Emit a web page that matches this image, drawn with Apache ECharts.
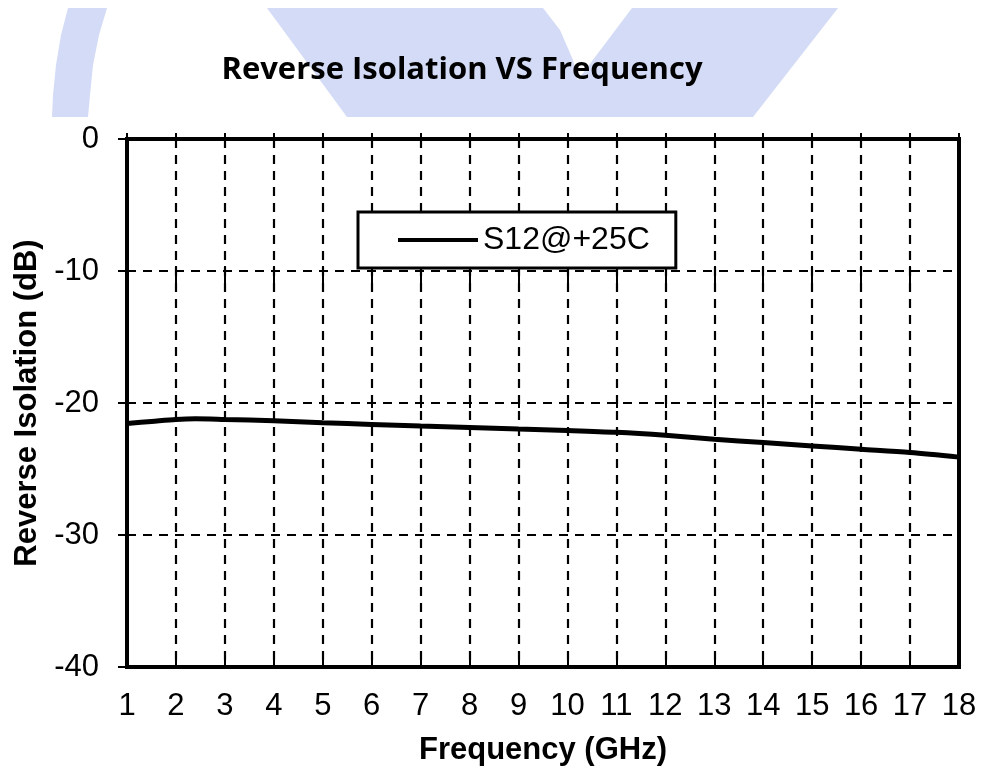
<!DOCTYPE html>
<html>
<head>
<meta charset="utf-8">
<script src="https://cdn.jsdelivr.net/npm/echarts@6/dist/echarts.min.js"></script>
<style>html,body{margin:0;padding:0;background:#fff;}#c{width:981px;height:775px;}</style>
</head>
<body>
<div id="c"></div>
<script>
var titleText = 'Reverse Isolation VS Frequency';
var xName = 'Frequency (GHz)';
var yName = 'Reverse Isolation (dB)';
var seriesName = 'S12@+25C';
var freq = [1, 1.5, 2, 2.4, 3, 4, 5, 6, 7, 8, 9, 10, 11, 12, 13, 14, 15, 16, 17, 18];
var s12 = [-21.55, -21.4, -21.25, -21.2, -21.25, -21.35, -21.5, -21.62, -21.75, -21.85, -21.97, -22.08, -22.22, -22.45, -22.75, -23.0, -23.25, -23.5, -23.75, -24.1];
var xMin = 1, xMax = 18, xStep = 1;
var yMin = -40, yMax = 0, yStep = 10;

var wm = '#d3dbf6';
var chart = echarts.init(document.getElementById('c'));
var font = '"Liberation Sans", Arial, sans-serif';
var plotH = 775 - 139 - 108;

function crossAxis(k) {
  // small tick crosses where vertical grid lines meet the horizontal gridline k steps above the bottom
  return {
    type: 'value', min: xMin, max: xMax, interval: xStep, position: 'bottom',
    offset: -(plotH * k / ((yMax - yMin) / yStep) + 5),
    axisLine: {show: false}, axisLabel: {show: false}, splitLine: {show: false},
    axisTick: {show: true, length: 10, lineStyle: {color: '#000', width: 2}}
  };
}

chart.setOption({
  animation: false,
  backgroundColor: '#fff',
  graphic: [
    {type: 'polygon', z: -10, silent: true, shape: {points: [[68,8],[107,8],[99,35],[93,65],[90,95],[88,117],[52,117],[53,95],[56,65],[61,35]]}, style: {fill: wm}},
    {type: 'polygon', z: -10, silent: true, shape: {points: [[267,8],[543,8],[560,30],[573,60],[580,90],[583,117],[347,117]]}, style: {fill: wm}},
    {type: 'polygon', z: -10, silent: true, shape: {points: [[632,8],[838,8],[753,117],[550,117]]}, style: {fill: wm}}
  ],
  title: {
    text: titleText,
    left: 457, top: 50, textAlign: 'center',
    textStyle: {fontFamily: '"Open Sans", sans-serif', fontWeight: 'bold', fontSize: 31, color: '#000'}
  },
  legend: {
    left: 358, top: 212,
    data: [{name: seriesName, icon: 'rect'}],
    itemWidth: 80, itemHeight: 4, itemGap: 5,
    padding: [12, 26, 12, 40],
    borderColor: '#000', borderWidth: 3, backgroundColor: '#fff',
    textStyle: {fontFamily: font, fontSize: 32, color: '#000'}
  },
  grid: {left: 127, right: 22, top: 139, bottom: 108, show: true, borderColor: '#000', borderWidth: 4, backgroundColor: 'transparent'},
  xAxis: [{
    type: 'value', min: xMin, max: xMax, interval: xStep, position: 'bottom',
    name: xName, nameLocation: 'middle', nameGap: 68,
    nameTextStyle: {fontFamily: font, fontWeight: 'bold', fontSize: 31, color: '#000'},
    axisLine: {show: true, onZero: false, lineStyle: {color: '#000', width: 4}},
    axisTick: {show: true, inside: true, length: 8, lineStyle: {color: '#000', width: 2}},
    axisLabel: {fontFamily: font, fontSize: 31, color: '#000', margin: 24},
    splitLine: {show: true, lineStyle: {color: '#000', width: 2.2, type: [9, 7]}}
  }, {
    type: 'value', min: xMin, max: xMax, interval: xStep, position: 'top',
    axisLine: {show: true, onZero: false, lineStyle: {color: '#000', width: 4}},
    axisTick: {show: true, length: 6, lineStyle: {color: '#000', width: 2}},
    axisLabel: {show: false}, splitLine: {show: false}
  }, crossAxis(1), crossAxis(2), crossAxis(3)],
  yAxis: {
    type: 'value', min: yMin, max: yMax, interval: yStep,
    name: yName, nameLocation: 'middle', nameGap: 82,
    nameTextStyle: {fontFamily: font, fontWeight: 'bold', fontSize: 31, color: '#000'},
    axisLine: {show: true, onZero: false, lineStyle: {color: '#000', width: 4}},
    axisTick: {show: true, length: 9, lineStyle: {color: '#000', width: 2}},
    axisLabel: {fontFamily: font, fontSize: 31, color: '#000', margin: 28},
    splitLine: {show: true, lineStyle: {color: '#000', width: 2.2, type: [9, 7]}}
  },
  series: [{
    name: seriesName, type: 'line', xAxisIndex: 0,
    data: freq.map(function (f, i) { return [f, s12[i]]; }),
    showSymbol: false, smooth: 0.3,
    lineStyle: {color: '#000', width: 5}, itemStyle: {color: '#000'}
  }]
});
</script>
</body>
</html>
